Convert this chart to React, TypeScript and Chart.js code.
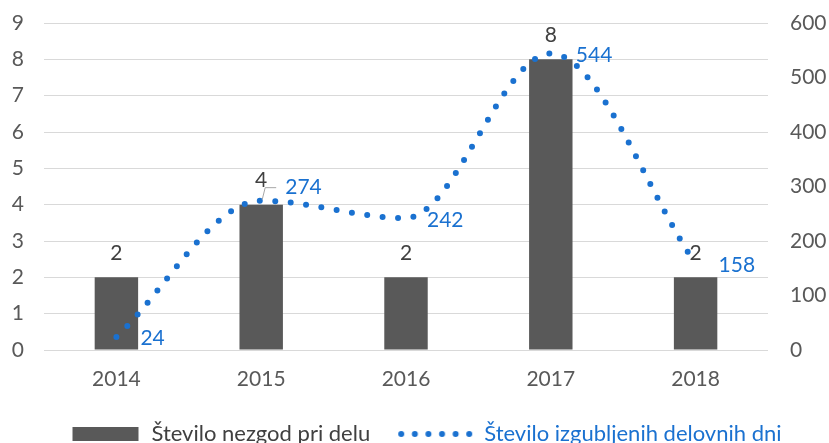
import React, { useEffect, useRef } from "react";
import { Chart, registerables } from "chart.js";

Chart.register(...registerables);

const years = ["2014", "2015", "2016", "2017", "2018"];
const accidents = [2, 4, 2, 8, 2];
const lostDays = [24, 274, 242, 544, 158];
const barLabel = "Število nezgod pri delu";
const lineLabel = "Število izgubljenih delovnih dni";

const BAR_COLOR = "#595959";
const LINE_COLOR = "#1a71d0";
const TEXT_COLOR = "#595959";
const FONT = "Lato, 'Open Sans', sans-serif";
const BOX_W = 90;

function makeBarSwatch() {
  const c = document.createElement("canvas");
  c.width = BOX_W;
  c.height = 14;
  const ctx = c.getContext("2d")!;
  ctx.fillStyle = BAR_COLOR;
  ctx.fillRect(BOX_W - 68, 0, 66, 14);
  return c;
}

function makeLineSwatch() {
  const c = document.createElement("canvas");
  c.width = BOX_W;
  c.height = 8;
  const ctx = c.getContext("2d")!;
  ctx.fillStyle = LINE_COLOR;
  for (let i = 0; i < 6; i++) {
    ctx.beginPath();
    ctx.arc(BOX_W - 75 + 3 + i * 13.6, 4, 3, 0, Math.PI * 2);
    ctx.fill();
  }
  return c;
}

const labelPlugin = {
  id: "valueLabels",
  afterDatasetsDraw(chart: any) {
    const ctx = chart.ctx;
    ctx.save();
    ctx.font = `21px ${FONT}`;
    ctx.textBaseline = "middle";
    const barMeta = chart.getDatasetMeta(0);
    ctx.fillStyle = "#404040";
    ctx.textAlign = "center";
    barMeta.data.forEach((el: any, i: number) => {
      ctx.fillText(String(accidents[i]), el.x, el.y - 24);
    });
    const b1 = barMeta.data[1];
    if (b1) {
      ctx.strokeStyle = "#a6a6a6";
      ctx.lineWidth = 1;
      ctx.beginPath();
      ctx.moveTo(b1.x + 15, b1.y - 17);
      ctx.lineTo(b1.x + 4, b1.y - 17);
      ctx.lineTo(b1.x + 1, b1.y - 5);
      ctx.stroke();
    }
    const lineMeta = chart.getDatasetMeta(1);
    const offs = [
      [24, 1],
      [24, -13],
      [21, 2],
      [25, 2],
      [23, 1],
    ];
    ctx.fillStyle = LINE_COLOR;
    ctx.textAlign = "left";
    lineMeta.data.forEach((el: any, i: number) => {
      ctx.fillText(String(lostDays[i]), el.x + offs[i][0], el.y + offs[i][1]);
    });
    ctx.restore();
  },
};

export default function App() {
  const ref = useRef<HTMLCanvasElement>(null);
  useEffect(() => {
    if (!ref.current) return;
    const barSwatch = makeBarSwatch();
    const lineSwatch = makeLineSwatch();
    const chart = new Chart(ref.current, {
      type: "bar",
      data: {
        labels: years,
        datasets: [
          {
            type: "bar",
            label: barLabel,
            data: accidents,
            backgroundColor: BAR_COLOR,
            yAxisID: "y",
            barPercentage: 0.3,
            categoryPercentage: 1,
            order: 2,
          },
          {
            type: "line",
            label: lineLabel,
            data: lostDays,
            borderColor: LINE_COLOR,
            borderWidth: 6,
            borderDash: [0, 15.5],
            borderCapStyle: "round",
            pointRadius: 0,
            cubicInterpolationMode: "monotone",
            yAxisID: "y1",
            order: 1,
          },
        ] as any,
      },
      options: {
        animation: false,
        responsive: true,
        maintainAspectRatio: false,
        layout: { padding: { top: 23, bottom: 0, left: 3, right: 0 } },
        plugins: {
          tooltip: { enabled: false },
          legend: {
            position: "bottom",
            labels: {
              usePointStyle: true,
              pointStyleWidth: BOX_W,
              padding: 13,
              font: { family: FONT, size: 22 },
              color: "#404040",
              generateLabels: () => [
                {
                  text: barLabel,
                  pointStyle: barSwatch,
                  fillStyle: BAR_COLOR,
                  strokeStyle: BAR_COLOR,
                  lineWidth: 0,
                  fontColor: "#404040",
                  datasetIndex: 0,
                } as any,
                {
                  text: lineLabel,
                  pointStyle: lineSwatch,
                  fillStyle: LINE_COLOR,
                  strokeStyle: LINE_COLOR,
                  lineWidth: 0,
                  fontColor: LINE_COLOR,
                  datasetIndex: 1,
                } as any,
              ],
            },
          },
        },
        scales: {
          x: {
            grid: { display: false, drawTicks: false },
            border: { display: false },
            ticks: { color: TEXT_COLOR, font: { family: FONT, size: 21 }, padding: 17 },
            afterFit: (s: any) => {
              s.height = 60;
            },
          },
          y: {
            position: "left",
            min: 0,
            max: 9,
            ticks: { stepSize: 1, color: TEXT_COLOR, font: { family: FONT, size: 21 }, padding: 0 },
            grid: { color: "#d9d9d9", drawTicks: true, tickLength: 20, tickColor: "rgba(0,0,0,0)" },
            border: { display: false },
            afterFit: (s: any) => {
              s.width = 41;
            },
          },
          y1: {
            position: "right",
            min: 0,
            max: 600,
            ticks: { stepSize: 100, color: TEXT_COLOR, font: { family: FONT, size: 21 }, padding: 0 },
            grid: {
              drawOnChartArea: false,
              drawTicks: true,
              tickLength: 22,
              tickColor: "rgba(0,0,0,0)",
              color: "rgba(0,0,0,0)",
            },
            border: { display: false },
            afterFit: (s: any) => {
              s.width = 61;
            },
          },
        },
      },
      plugins: [labelPlugin],
    });
    return () => chart.destroy();
  }, []);
  return (
    <div style={{ position: "absolute", left: 0, top: 0, width: 829, height: 443, overflow: "hidden" }}>
      <div style={{ position: "relative", width: 829, height: 455 }}>
        <canvas ref={ref} />
      </div>
    </div>
  );
}
